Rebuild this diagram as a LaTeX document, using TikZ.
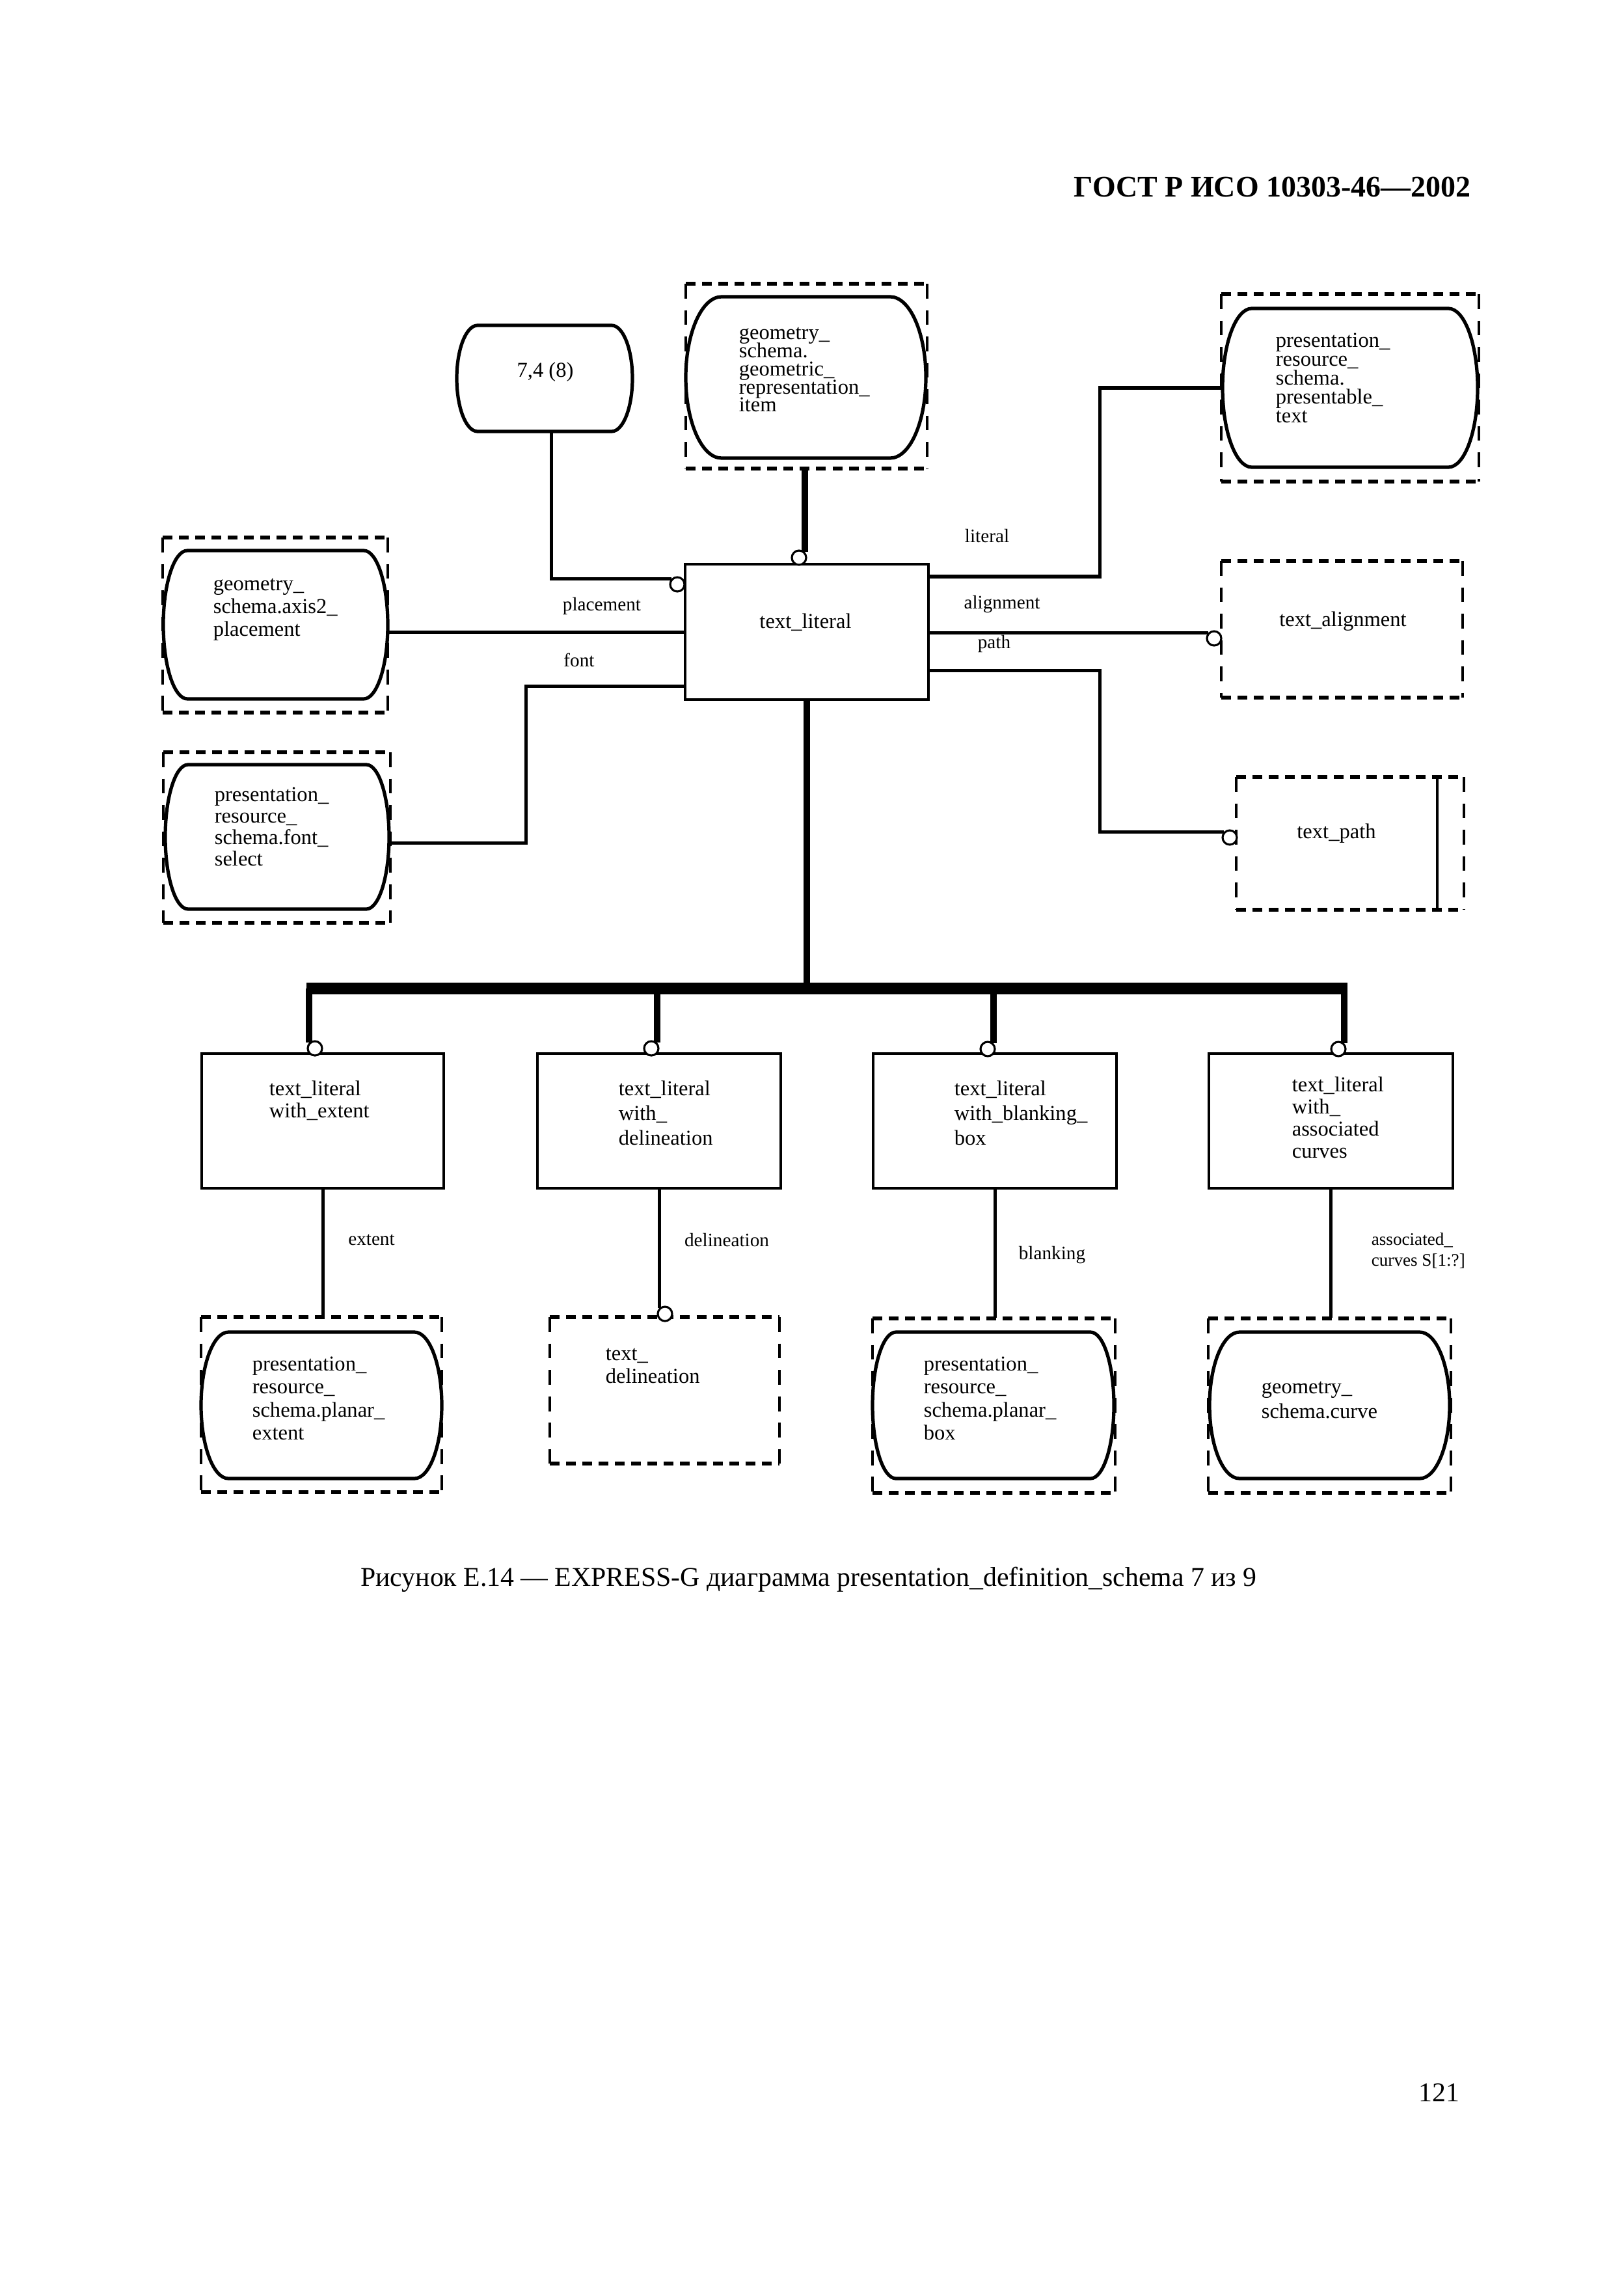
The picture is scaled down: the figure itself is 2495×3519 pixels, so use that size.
\documentclass[tikz,border=0pt]{standalone}
\usepackage{fontspec}
\setmainfont{Liberation Serif}
\usetikzlibrary{fit,calc}
\newcommand\myfst{\rule{0pt}{0.8em}}
\newcommand\barrel[6]{%
  \node[fit={(#2,#3) (#4,#5)}, inner sep=0pt] (#1) {};
  \draw[barline] ({#2+#6},#3) -- ({#4-#6},#3)
    .. controls ({#4-0.448*#6},#3) and (#4,{#3+0.224*(#5-#3)}) .. (#4,{(#3+#5)/2})
    .. controls (#4,{#5-0.224*(#5-#3)}) and ({#4-0.448*#6},#5) .. ({#4-#6},#5)
    -- ({#2+#6},#5)
    .. controls ({#2+0.448*#6},#5) and (#2,{#5-0.224*(#5-#3)}) .. (#2,{(#3+#5)/2})
    .. controls (#2,{#3+0.224*(#5-#3)}) and ({#2+0.448*#6},#3) .. cycle;
}
\newcommand\mydbx[5]{%
  \node[fit={(#2,#3) (#4,#5)}, inner sep=0pt] (#1) {};
  \draw[dh] (#2,#3) -- (#4,#3) (#2,#5) -- (#4,#5);
  \draw[dv] (#2,#3) -- (#2,#5) (#4,#3) -- (#4,#5);
}
\begin{document}
\begin{tikzpicture}[x=0.08417mm, y=-0.08417mm,
  rect/.style={draw, line width=0.85pt, inner sep=0pt},
  dh/.style={line width=1.4pt, dash pattern=on 3.6pt off 2.4pt},
  dv/.style={line width=1.05pt, dash pattern=on 5.5pt off 4.2pt},
  barline/.style={line width=1.25pt},
  ring/.style={circle, draw, line width=0.75pt, fill=white, minimum size=1.85mm, inner sep=0pt},
  rel/.style={line width=1.2pt},
  thk/.style={line width=2.4pt},
  busl/.style={line width=4.1pt},
  btxt/.style={inner sep=0pt, font=\fontsize{7.8}{9}\selectfont},
  blk/.style={inner sep=0pt, anchor=north west, align=left, font={\fontsize{7.8}{#1}\selectfont\lineskiplimit=-100pt}},
  lab/.style={inner sep=0pt, font=\fontsize{7}{8}\selectfont}
]
\useasboundingbox (0,0) rectangle (2495,3519);

% header, caption, page number
\node[anchor=base east, inner sep=0pt, font=\fontsize{11}{13}\selectfont\bfseries] (hdr) at (2261,303) {ГОСТ Р ИСО 10303-46—2002};
\node[anchor=base, inner sep=0pt, font=\fontsize{10}{12}\selectfont] (cap) at (1243,2437) {Рисунок Е.14 — EXPRESS-G диаграмма presentation\_definition\_schema 7 из 9};
\node[anchor=base east, inner sep=0pt, font=\fontsize{10}{12}\selectfont] (pg) at (2244,3229) {121};

% top row
\barrel{n74}{702}{500}{972}{663}{32}
\node[btxt] (t74) at (838,572) {7,4 (8)};

\mydbx{geo}{1054}{436}{1425}{720}
\barrel{geob}{1054}{456}{1423}{704}{55}
\node[blk=6.65] (tgeo) at (1135,495) {\myfst geometry\_\\schema.\\geometric\_\\representation\_\\item};

\mydbx{pt}{1877}{452}{2273}{740}
\barrel{ptb}{1879}{474}{2271}{718}{45}
\node[blk=6.9] (tpt) at (1960,507) {\myfst presentation\_\\resource\_\\schema.\\presentable\_\\text};

% central entity
\node[rect, fit={(1053,867) (1427,1075)}] (tl) {};
\node[btxt] (ttl) at (1238,956) {text\_literal};

% left side
\mydbx{ax}{250}{826}{596}{1095}
\barrel{axb}{251}{846}{596}{1074}{37}
\node[blk=8.3] (tax) at (327,881) {\myfst geometry\_\\schema.axis2\_\\placement};

\mydbx{fs}{251}{1156}{600}{1418}
\barrel{fsb}{254}{1175}{598}{1397}{35}
\node[blk=7.9] (tfs) at (329,1205) {\myfst presentation\_\\resource\_\\schema.font\_\\select};

% right side
\mydbx{ta}{1877}{862}{2248}{1072}
\node[btxt] (tta) at (2064,955) {text\_alignment};

\mydbx{tp}{1900}{1194}{2250}{1398}
\coordinate (kt) at (2209,0);
\draw[line width=0.9pt] (tp.north -| kt) -- (tp.south -| kt);
\node[btxt] (ttp) at (2054,1281) {text\_path};

% circles
\node[ring] (c74) at (1041,898) {};
\node[ring] (cg) at (1228,857) {};
\node[ring] (ca) at (1866,981) {};
\node[ring] (cp) at (1890,1287) {};

% attribute connectors of text_literal
\coordinate (kx) at (1690,0);
\coordinate (kfx) at (808,0);
\coordinate (kf) at (0,1054);
\coordinate (kl) at (0,886);
\coordinate (kp) at (0,1030);
\draw[rel] ($(n74.south)+(10,0)$) |- (c74.north west);
\draw[thk] (geo.south -| cg.north east) -- (cg.north east);
\draw[rel] (axb.east |- tl.west) -- (tl.west);
\draw[rel] ($(fsb.east)+(0,9)$) -| (kfx |- kf) -- (tl.west |- kf);
\draw[rel] (tl.east |- kl) -| (kx |- ptb.west) -- (ptb.west);
\draw[rel] (tl.east |- ca.north west) -- (ca.north west);
\draw[rel] (tl.east |- kp) -| (kx |- cp.north west) -- (cp.north west);

\node[lab] (lplc) at (925,931) {placement};
\node[lab] (lfnt) at (890,1014) {font};
\node[lab] (llit) at (1517,823) {literal};
\node[lab] (lali) at (1540,929) {alignment};
\node[lab] (lpth) at (1528,989) {path};

% subtypes
\node[rect, fit={(310,1619) (682,1826)}] (s1) {};
\node[rect, fit={(826,1619) (1200,1826)}] (s2) {};
\node[rect, fit={(1342,1619) (1716,1826)}] (s3) {};
\node[rect, fit={(1858,1619) (2233,1826)}] (s4) {};
\node[blk=8.1] (ts1) at (413,1657) {\myfst text\_literal\\with\_extent};
\node[blk=9.0] (ts2) at (950,1657) {\myfst text\_literal\\with\_\\delineation};
\node[blk=9.0] (ts3) at (1466,1657) {\myfst text\_literal\\with\_blanking\_\\box};
\node[blk=8.1] (ts4) at (1985,1651) {\myfst text\_literal\\with\_\\associated\\curves};

\node[ring] (cs1) at (484,1611) {};
\node[ring] (cs2) at (1001,1611) {};
\node[ring] (cs3) at (1518,1612) {};
\node[ring] (cs4) at (2057,1612) {};

\coordinate (busL) at (471,1519);
\coordinate (busR) at (2071,1519);
\draw[busl] (busL) -- (busR);
\draw[thk] (tl.south) -- (tl.south |- busL);
\draw[thk] (cs1.north west |- busL) -- (cs1.north west);
\draw[thk] (cs2.north east |- busL) -- (cs2.north east);
\draw[thk] (cs3.north east |- busL) -- (cs3.north east);
\draw[thk] (cs4.north east |- busL) -- (cs4.north east);

% bottom row
\mydbx{b1}{309}{2024}{679}{2293}
\barrel{b1b}{309}{2047}{679}{2272}{42}
\node[blk=8.4] (tb1) at (387,2080) {\myfst presentation\_\\resource\_\\schema.planar\_\\extent};

\mydbx{b2}{845}{2024}{1198}{2249}
\node[blk=8.4] (tb2) at (930,2064) {\myfst text\_\\delineation};
\node[ring] (cd) at (1022,2019) {};

\mydbx{b3}{1341}{2026}{1714}{2294}
\barrel{b3b}{1341}{2047}{1712}{2272}{36}
\node[blk=8.4] (tb3) at (1419,2080) {\myfst presentation\_\\resource\_\\schema.planar\_\\box};

\mydbx{b4}{1857}{2026}{2230}{2294}
\barrel{b4b}{1859}{2047}{2228}{2272}{46}
\node[blk=9.1] (tb4) at (1938,2115) {\myfst geometry\_\\schema.curve};

\draw[rel] (s1.south) -- (s1.south |- b1.north);
\draw[rel] (s2.south) -- (s2.south |- cd.north west);
\draw[rel] (s3.south) -- (s3.south |- b3.north);
\draw[rel] (s4.south) -- (s4.south |- b4.north);

\node[lab] (lext) at (571,1905) {extent};
\node[lab] (ldel) at (1117,1905) {delineation};
\node[lab] (lbla) at (1617,1928) {blanking};
\node[lab, anchor=north west, align=left, font={\fontsize{6.5}{7.7}\selectfont\lineskiplimit=-100pt}] (lass) at (2107,1891) {\myfst associated\_\\curves S[1:?]};
\end{tikzpicture}
\end{document}
